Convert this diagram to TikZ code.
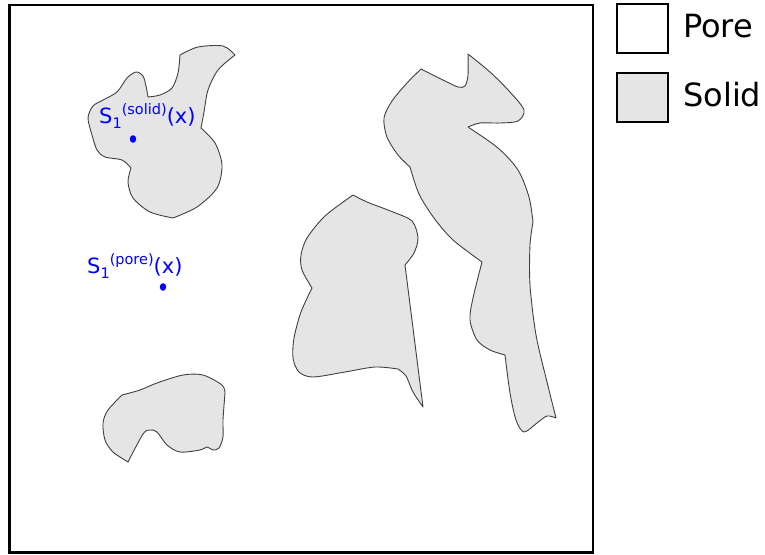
\documentclass[tikz,border=0pt]{standalone}
\usepackage{fontspec}
\setmainfont{DejaVu Sans}
\begin{document}
\begin{tikzpicture}[x=1pt,y=-1pt,
  grain/.style={fill=black!10,draw=black!75,line width=0.9pt,line join=round},
  frame/.style={draw=black,line width=2.8pt},
  legbox/.style={draw=black,line width=2.8pt},
  legtext/.style={font=\fontsize{32}{36}\selectfont,anchor=base west,inner sep=0pt},
  lbl/.style={text=blue,font=\fontsize{21}{24}\selectfont,anchor=base west,inner sep=0pt},
  dotmark/.style={fill=blue,draw=none}]
\useasboundingbox (0,0) rectangle (765,554);
\draw[frame] (9.5,5) rectangle (593,552.5);
% grain 1 (top left)
\draw[grain] plot[smooth] coordinates {(148,97) (160,95) (172,88) (178,73) (180,55)}
  -- plot[smooth] coordinates {(180,55) (198,47) (223,46) (235,55)}
  -- plot[smooth] coordinates {(235,55) (218,70) (208,90) (204,112) (201,128)}
  -- plot[smooth] coordinates {(201,128) (215,143) (222,165) (217,188) (197,207) (173,218)}
  -- plot[smooth] coordinates {(173,218) (150,212) (133,198) (128,182) (131,168)}
  -- plot[smooth] coordinates {(131,168) (122,160) (105,157) (97,150) (92,135) (88,118) (93,106) (103,100) (117,92) (127,78) (136,72) (143,76) (146,86) (148,97)}
  -- cycle;
% grain 2 (middle)
\draw[grain] plot[smooth] coordinates {(353,195) (367,202) (393,212) (412,221) (418,238) (414,253) (405,265)}
  -- (423,407)
  -- plot[smooth] coordinates {(423,407) (413,392) (406,376) (398,369)}
  -- plot[smooth] coordinates {(398,369) (375,367) (345,372) (313,377) (299,372) (293,358) (294,338) (301,312) (312,288)}
  -- plot[smooth] coordinates {(312,288) (302,270) (301,255) (307,238) (325,216) (353,195)}
  -- cycle;
% grain 3 (tall)
\draw[grain] plot[smooth] coordinates {(421,69) (445,81) (458,87) (465,86) (468,75) (468,54)}
  -- plot[smooth] coordinates {(468,54) (490,72) (510,92) (524,110) (518,121) (500,123) (480,123) (468,127)}
  -- plot[smooth] coordinates {(468,127) (498,148) (518,170) (529,197) (533,222)}
  -- plot[smooth] coordinates {(533,222) (530,245) (530,285) (536,335) (547,382) (556,418)}
  -- plot[smooth] coordinates {(556,418) (547,416) (537,423) (524,432) (516,420) (510,393) (505,355)}
  -- plot[smooth] coordinates {(505,355) (490,350) (477,340) (470,320) (473,298) (482,262)}
  -- plot[smooth] coordinates {(482,262) (453,240) (434,218) (419,194) (410,167)}
  -- plot[smooth] coordinates {(410,167) (398,155) (387,137) (384,118) (392,101) (407,83) (421,69)}
  -- cycle;
% grain 4 (bottom left)
\draw[grain] plot[smooth] coordinates {(122,395) (140,390) (157,383) (183,375) (203,375) (222,385) (225,393)}
  -- plot[smooth] coordinates {(225,393) (223,420) (223,437) (219,448) (213,450) (207,447) (200,450) (180,452) (167,445) (157,432) (150,430) (143,434) (128,462)}
  -- plot[smooth] coordinates {(128,462) (113,452) (105,440) (103,423) (108,410) (122,395)}
  -- cycle;
% labels and points
\node[lbl] (lsolid) at (99,123) {S\raisebox{-5pt}{\fontsize{14.5}{16}\selectfont 1}\raisebox{9pt}{\fontsize{14.5}{16}\selectfont (solid)}(x)};
\fill[dotmark] (133,139) ellipse [x radius=3.2,y radius=3.8];
\node[lbl] (lpore) at (87,273) {S\raisebox{-5pt}{\fontsize{14.5}{16}\selectfont 1}\raisebox{9pt}{\fontsize{14.5}{16}\selectfont (pore)}(x)};
\fill[dotmark] (163,287) ellipse [x radius=3.2,y radius=3.8];
% legend
\draw[legbox,fill=white] (617,4) rectangle (668,53);
\node[legtext] (tpore) at (683,37) {Pore};
\draw[legbox,fill=black!10] (617,73) rectangle (668,122);
\node[legtext] (tsolid) at (683,106) {Solid};
\end{tikzpicture}
\end{document}
